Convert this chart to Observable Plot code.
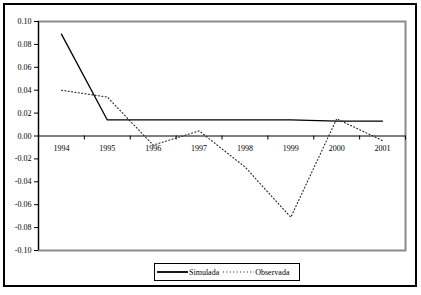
<!DOCTYPE html>
<html>
<head>
<meta charset="utf-8">
<script src="https://cdn.jsdelivr.net/npm/d3@7"></script>
<script src="https://cdn.jsdelivr.net/npm/@observablehq/plot@0.6"></script>
<style>
  html, body { margin: 0; padding: 0; background: #fff; }
  #wrap { position: relative; width: 421px; height: 295px; font-family: "Liberation Serif", "DejaVu Serif", serif; }
  #outer { position: absolute; left: 3px; top: 3px; width: 410px; height: 280px; border: 2px solid #000; pointer-events: none; }
  #chart { position: absolute; left: 0; top: 0; }
  #legend { position: absolute; left: 154px; top: 263px; width: 144px; height: 16px; border: 1px solid #000;
            display: flex; align-items: center; font-size: 8px; color: #000; }
  #legend svg { display: block; }
</style>
</head>
<body>
<div id="wrap">
  <div id="chart"></div>
  <div id="outer"></div>
  <div id="legend"></div>
</div>
<script>
const years = [1994, 1995, 1996, 1997, 1998, 1999, 2000, 2001];
const simulada = [0.089, 0.014, 0.014, 0.014, 0.014, 0.014, 0.013, 0.013];
const observada = [0.040, 0.034, -0.008, 0.0045, -0.027, -0.071, 0.015, -0.004];
const yTicks = [-0.10, -0.08, -0.06, -0.04, -0.02, 0.00, 0.02, 0.04, 0.06, 0.08, 0.10];
const seriesNames = ["Simulada", "Observada"];

const simData = years.map((y, i) => ({year: y, value: simulada[i]}));
const obsData = years.map((y, i) => ({year: y, value: observada[i]}));
const xDomain = [years[0] - 0.5, years[years.length - 1] + 0.5];
const boundaries = [...years.map(y => y - 0.5), years[years.length - 1] + 0.5];

const plot = Plot.plot({
  width: 421,
  height: 295,
  marginLeft: 38,
  marginRight: 16,
  marginTop: 21,
  marginBottom: 45,
  style: { fontFamily: "Liberation Serif", fontSize: "8px", color: "#000", background: "transparent" },
  x: { domain: xDomain, axis: null },
  y: { domain: [yTicks[0], yTicks[yTicks.length - 1]], axis: null },
  marks: [
    Plot.frame({ stroke: "#8a8a8a", strokeWidth: 2 }),
    Plot.ruleX([xDomain[0]], { stroke: "#000", strokeWidth: 1 }),
    Plot.axisY(yTicks, { tickSize: 4, tickPadding: 3, tickFormat: d => d.toFixed(2), stroke: "#000", label: null }),
    Plot.ruleY([0], { stroke: "#000", strokeWidth: 1 }),
    Plot.ruleX(boundaries, { x: d => d, y1: 0, y2: 0, insetBottom: -4, stroke: "#000" }),
    Plot.text(years, { x: d => d, y: 0, dy: 12, text: d => String(d), fill: "#000" }),
    Plot.line(simData, { x: "year", y: "value", stroke: "#000", strokeWidth: 1.3 }),
    Plot.line(obsData, { x: "year", y: "value", stroke: "#222", strokeWidth: 1.1, strokeDasharray: "1 2.4" })
  ]
});
document.getElementById("chart").appendChild(plot);

const legend = document.getElementById("legend");
const ns = "http://www.w3.org/2000/svg";
function swatch(dash) {
  const s = document.createElementNS(ns, "svg");
  s.setAttribute("width", 33); s.setAttribute("height", 8);
  const l = document.createElementNS(ns, "line");
  l.setAttribute("x1", 2); l.setAttribute("x2", 33); l.setAttribute("y1", 4); l.setAttribute("y2", 4);
  l.setAttribute("stroke", dash ? "#222" : "#000");
  l.setAttribute("stroke-width", dash ? 1.1 : 1.8);
  if (dash) l.setAttribute("stroke-dasharray", "1 2.4");
  s.appendChild(l);
  return s;
}
seriesNames.forEach((name, i) => {
  legend.appendChild(swatch(i === 1));
  const t = document.createElement("span");
  t.textContent = name;
  t.style.marginLeft = "1px";
  t.style.marginRight = "2px";
  legend.appendChild(t);
});
</script>
</body>
</html>
